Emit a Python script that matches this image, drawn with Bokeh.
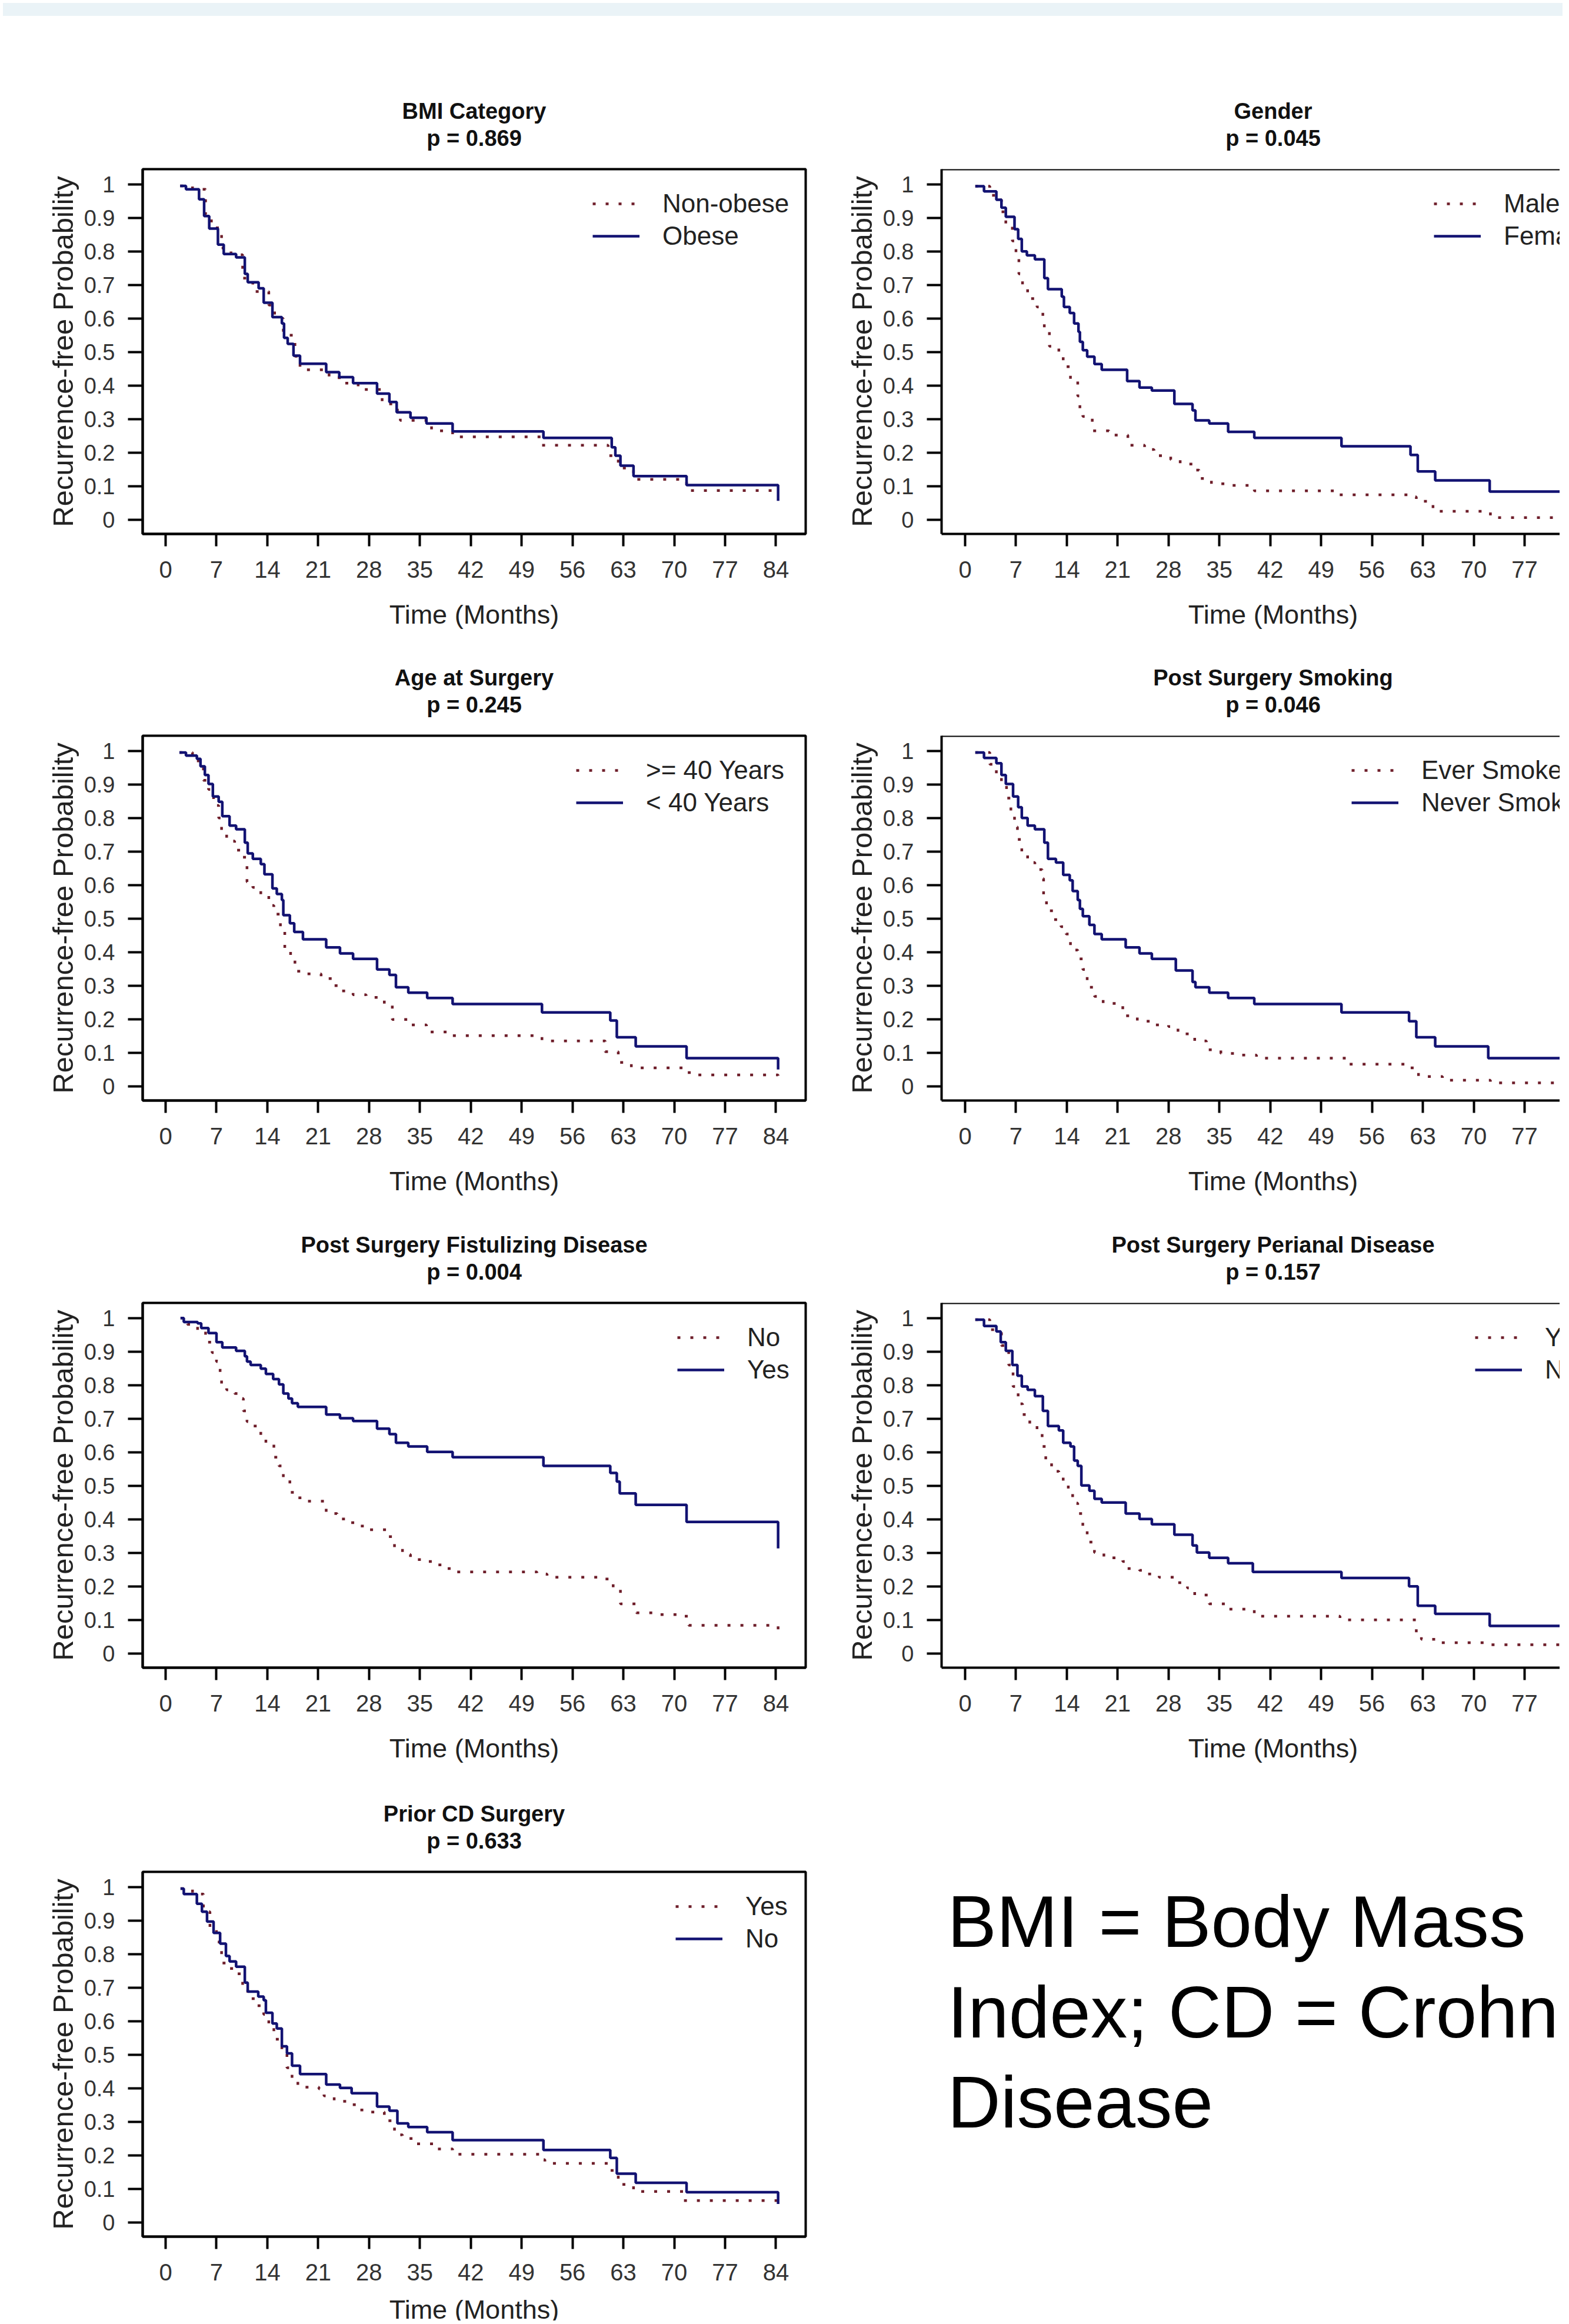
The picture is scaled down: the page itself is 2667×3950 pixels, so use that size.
from bokeh.plotting import figure
from bokeh.models import Range1d, FixedTicker, Label, Legend, LegendItem, Span, Div
from bokeh.layouts import column, row
from bokeh.embed import file_html
from bokeh.resources import INLINE

FONT = "Liberation Sans"
RED = "#6e1e2a"
BLUE = "#121272"

# ---------------- data ----------------
x_ticks = [0, 7, 14, 21, 28, 35, 42, 49, 56, 63, 70, 77, 84]
y_ticks = [0, 0.1, 0.2, 0.3, 0.4, 0.5, 0.6, 0.7, 0.8, 0.9, 1]
y_tick_labels = ["0", "0.1", "0.2", "0.3", "0.4", "0.5", "0.6", "0.7", "0.8", "0.9", "1"]

titles = ["BMI Category", "Gender", "Age at Surgery", "Post Surgery Smoking",
          "Post Surgery Fistulizing Disease", "Post Surgery Perianal Disease", "Prior CD Surgery"]
p_values = ["p = 0.869", "p = 0.045", "p = 0.245", "p = 0.046", "p = 0.004", "p = 0.157", "p = 0.633"]
red_labels = ["Non-obese", "Male", ">= 40 Years", "Ever Smoker", "No", "Yes", "Yes"]
blue_labels = ["Obese", "Female", "< 40 Years", "Never Smoker", "Yes", "No", "No"]

bmi_red_t = [2.0, 3.7, 5.5, 6.3, 7.7, 9.0, 10.6, 12.0, 14.2, 15.0, 16.2, 17.8, 18.5, 22.5, 24.3, 26.5, 29.8, 31.9, 32.3, 36.6, 39.5, 51.8, 60.9, 62.3, 64.4, 71.7, 84.3]
bmi_red_s = [0.995, 0.985, 0.91, 0.87, 0.81, 0.79, 0.72, 0.68, 0.64, 0.60, 0.55, 0.487, 0.447, 0.423, 0.407, 0.388, 0.345, 0.308, 0.296, 0.265, 0.247, 0.222, 0.191, 0.154, 0.12, 0.087, 0.087]
bmi_blue_t = [2.0, 2.8, 4.6, 5.3, 6.0, 7.2, 8.0, 9.7, 10.9, 11.3, 12.8, 13.5, 14.7, 16.0, 16.3, 16.8, 17.6, 18.5, 22.1, 23.9, 25.8, 29.1, 30.8, 31.8, 33.7, 35.9, 39.5, 52.0, 61.4, 61.9, 62.6, 64.4, 71.7, 84.3]
bmi_blue_s = [0.995, 0.985, 0.955, 0.905, 0.868, 0.82, 0.792, 0.782, 0.733, 0.708, 0.69, 0.647, 0.604, 0.585, 0.542, 0.524, 0.489, 0.465, 0.44, 0.425, 0.407, 0.376, 0.351, 0.32, 0.304, 0.287, 0.263, 0.244, 0.216, 0.191, 0.161, 0.13, 0.103, 0.056]

gen_red_t = [1.4, 3.4, 4.3, 5.0, 5.6, 6.5, 7.0, 7.4, 7.9, 8.6, 9.9, 10.7, 10.9, 11.6, 12.9, 13.5, 14.5, 15.5, 15.8, 16.2, 17.5, 19.8, 22.4, 24.7, 26.0, 28.3, 29.6, 31.3, 32.2, 33.9, 36.8, 39.8, 51.3, 61.1, 62.1, 64.4, 72.3, 84.3]
gen_red_s = [0.994, 0.967, 0.954, 0.918, 0.874, 0.831, 0.782, 0.733, 0.696, 0.659, 0.634, 0.597, 0.56, 0.517, 0.486, 0.456, 0.413, 0.369, 0.326, 0.308, 0.265, 0.252, 0.222, 0.209, 0.191, 0.179, 0.166, 0.148, 0.123, 0.107, 0.102, 0.086, 0.074, 0.068, 0.055, 0.025, 0.006, 0.006]
gen_blue_t = [1.4, 2.6, 4.3, 5.0, 5.6, 6.8, 7.3, 7.8, 8.5, 9.6, 10.9, 11.4, 13.3, 13.6, 14.4, 15.0, 15.6, 15.8, 16.2, 16.8, 17.8, 18.8, 22.3, 24.0, 25.7, 28.8, 31.3, 31.7, 33.6, 36.2, 39.8, 51.8, 61.3, 62.3, 64.7, 72.2, 84.3]
gen_blue_s = [0.994, 0.979, 0.954, 0.93, 0.903, 0.866, 0.837, 0.80, 0.788, 0.776, 0.72, 0.687, 0.665, 0.634, 0.616, 0.585, 0.56, 0.53, 0.505, 0.486, 0.464, 0.447, 0.413, 0.394, 0.385, 0.345, 0.326, 0.296, 0.287, 0.262, 0.244, 0.219, 0.193, 0.144, 0.117, 0.084, 0.084]

age_red_t = [1.9, 3.7, 5.2, 5.9, 6.6, 7.3, 7.7, 8.4, 9.5, 10.6, 11.2, 12.0, 13.1, 14.2, 14.9, 15.8, 16.4, 17.2, 17.8, 19.3, 21.4, 22.9, 24.0, 25.8, 27.6, 30.1, 31.2, 33.7, 35.9, 38.8, 51.8, 60.5, 62.3, 64.1, 71.7, 72.8, 84.3]
age_red_s = [0.995, 0.97, 0.912, 0.885, 0.837, 0.80, 0.763, 0.731, 0.704, 0.683, 0.609, 0.593, 0.571, 0.539, 0.513, 0.465, 0.412, 0.39, 0.343, 0.335, 0.321, 0.30, 0.284, 0.273, 0.265, 0.241, 0.199, 0.183, 0.162, 0.151, 0.135, 0.103, 0.071, 0.055, 0.041, 0.034, 0.025]
age_blue_t = [1.9, 2.8, 4.3, 4.8, 5.4, 5.9, 6.5, 7.3, 7.8, 8.8, 9.7, 10.9, 11.3, 12.0, 13.1, 13.6, 14.7, 15.3, 16.0, 16.2, 17.1, 17.7, 18.9, 22.1, 24.0, 25.8, 29.1, 30.8, 31.7, 33.4, 36.0, 39.5, 51.8, 61.2, 62.1, 64.7, 71.7, 84.3]
age_blue_s = [0.995, 0.986, 0.976, 0.954, 0.928, 0.901, 0.864, 0.848, 0.805, 0.777, 0.766, 0.726, 0.694, 0.678, 0.662, 0.632, 0.59, 0.573, 0.555, 0.51, 0.486, 0.46, 0.438, 0.414, 0.396, 0.38, 0.348, 0.332, 0.295, 0.279, 0.263, 0.245, 0.22, 0.196, 0.146, 0.119, 0.084, 0.05]

smk_red_t = [1.4, 3.4, 4.3, 5.0, 5.7, 6.3, 6.8, 7.2, 7.8, 8.6, 9.6, 10.6, 10.8, 11.2, 12.2, 13.2, 13.9, 14.5, 15.5, 16.2, 16.8, 17.8, 19.0, 21.1, 21.7, 23.7, 25.7, 28.0, 29.3, 31.6, 33.2, 35.2, 37.5, 40.1, 52.6, 61.1, 62.4, 65.7, 72.3, 84.3]
smk_red_s = [0.995, 0.96, 0.922, 0.896, 0.859, 0.816, 0.773, 0.736, 0.699, 0.667, 0.646, 0.619, 0.561, 0.523, 0.497, 0.476, 0.454, 0.406, 0.38, 0.348, 0.295, 0.268, 0.247, 0.241, 0.21, 0.194, 0.183, 0.178, 0.156, 0.135, 0.109, 0.098, 0.093, 0.084, 0.066, 0.055, 0.029, 0.018, 0.01, 0.01]
smk_blue_t = [1.4, 2.6, 4.3, 5.0, 5.6, 6.6, 7.3, 7.8, 8.6, 9.6, 10.9, 11.4, 12.5, 13.5, 14.4, 14.8, 15.5, 15.8, 16.2, 17.1, 17.8, 18.8, 22.1, 24.0, 25.7, 29.0, 31.3, 31.7, 33.6, 36.2, 39.8, 51.8, 61.1, 62.1, 64.7, 72.0, 84.3]
smk_blue_s = [0.995, 0.979, 0.963, 0.928, 0.901, 0.864, 0.832, 0.80, 0.777, 0.766, 0.726, 0.678, 0.667, 0.63, 0.614, 0.582, 0.555, 0.529, 0.507, 0.481, 0.454, 0.438, 0.414, 0.396, 0.38, 0.345, 0.311, 0.295, 0.279, 0.263, 0.245, 0.22, 0.194, 0.146, 0.119, 0.084, 0.084]

fis_red_t = [2.05, 3.0, 4.4, 5.5, 6.4, 7.0, 7.5, 7.7, 8.4, 9.5, 10.4, 10.7, 11.2, 12.0, 13.1, 13.8, 14.9, 15.6, 16.2, 17.1, 17.8, 18.9, 21.8, 22.1, 23.6, 25.0, 26.5, 27.9, 30.5, 31.5, 32.6, 33.7, 35.5, 37.0, 38.1, 39.9, 51.1, 52.5, 60.5, 61.6, 62.6, 64.8, 67.7, 71.0, 72.0, 84.3]
fis_red_s = [1.0, 0.981, 0.96, 0.928, 0.897, 0.87, 0.839, 0.802, 0.786, 0.775, 0.76, 0.723, 0.691, 0.678, 0.649, 0.628, 0.585, 0.559, 0.517, 0.48, 0.464, 0.454, 0.438, 0.417, 0.401, 0.39, 0.38, 0.369, 0.348, 0.316, 0.295, 0.28, 0.274, 0.264, 0.253, 0.243, 0.237, 0.227, 0.222, 0.19, 0.148, 0.121, 0.116, 0.111, 0.084, 0.047]
fis_blue_t = [2.05, 2.5, 4.4, 4.9, 5.9, 7.0, 7.8, 9.7, 10.9, 11.2, 11.7, 13.1, 13.8, 14.8, 15.6, 16.2, 16.9, 17.4, 18.2, 22.1, 24.0, 25.8, 29.1, 30.8, 31.7, 33.4, 36.0, 39.5, 52.0, 61.2, 62.1, 62.5, 64.7, 71.7, 84.3]
fis_blue_s = [1.0, 0.988, 0.984, 0.97, 0.955, 0.928, 0.912, 0.902, 0.886, 0.87, 0.86, 0.849, 0.833, 0.818, 0.802, 0.775, 0.76, 0.746, 0.735, 0.712, 0.701, 0.693, 0.67, 0.654, 0.628, 0.617, 0.601, 0.585, 0.559, 0.538, 0.512, 0.477, 0.443, 0.392, 0.313]

per_red_t = [1.4, 3.4, 5.0, 6.0, 6.6, 7.3, 7.9, 8.9, 9.9, 10.6, 11.1, 11.9, 12.9, 13.5, 14.2, 14.8, 15.5, 16.2, 16.8, 17.8, 19.1, 21.7, 22.3, 24.0, 25.0, 26.7, 29.0, 30.6, 31.6, 33.6, 36.2, 39.8, 51.6, 62.1, 62.8, 65.1, 72.3, 84.3]
per_red_s = [0.995, 0.965, 0.918, 0.86, 0.796, 0.744, 0.712, 0.68, 0.665, 0.617, 0.575, 0.543, 0.527, 0.506, 0.48, 0.448, 0.417, 0.369, 0.332, 0.301, 0.285, 0.274, 0.253, 0.248, 0.237, 0.227, 0.211, 0.195, 0.174, 0.148, 0.132, 0.111, 0.1, 0.058, 0.042, 0.032, 0.026, 0.026]
per_blue_t = [1.4, 2.6, 4.3, 4.9, 5.6, 6.5, 7.2, 7.8, 8.6, 9.6, 10.7, 11.4, 12.9, 13.5, 14.5, 15.0, 15.5, 16.0, 17.1, 17.8, 18.8, 22.1, 24.0, 25.7, 28.8, 31.3, 31.9, 33.6, 36.2, 39.6, 51.8, 61.1, 62.3, 64.7, 72.2, 84.3]
per_blue_s = [0.995, 0.976, 0.96, 0.928, 0.902, 0.86, 0.828, 0.796, 0.786, 0.767, 0.723, 0.678, 0.665, 0.628, 0.617, 0.575, 0.559, 0.501, 0.485, 0.461, 0.45, 0.417, 0.401, 0.385, 0.354, 0.322, 0.301, 0.285, 0.269, 0.243, 0.225, 0.2, 0.142, 0.118, 0.082, 0.082]

cd_red_t = [2.05, 3.7, 5.2, 6.1, 7.0, 7.7, 8.8, 9.9, 10.6, 11.3, 12.4, 13.5, 14.2, 14.9, 16.0, 16.7, 17.4, 18.2, 21.1, 21.8, 23.2, 25.0, 26.5, 27.9, 30.1, 31.5, 32.6, 34.4, 37.3, 39.5, 51.4, 52.2, 61.2, 62.3, 64.4, 71.3, 84.3]
cd_red_s = [0.995, 0.979, 0.926, 0.879, 0.836, 0.773, 0.757, 0.741, 0.694, 0.667, 0.646, 0.62, 0.588, 0.546, 0.504, 0.461, 0.43, 0.403, 0.398, 0.377, 0.361, 0.351, 0.335, 0.329, 0.303, 0.261, 0.25, 0.234, 0.219, 0.203, 0.187, 0.176, 0.155, 0.113, 0.092, 0.065, 0.055]
cd_blue_t = [2.05, 2.5, 4.3, 5.0, 5.7, 6.6, 7.5, 8.3, 8.8, 9.7, 10.9, 11.3, 12.75, 13.5, 13.8, 14.7, 15.3, 16.0, 16.7, 17.4, 18.5, 22.1, 24.0, 25.6, 29.1, 30.8, 31.9, 33.4, 36.0, 39.5, 52.0, 61.2, 62.1, 64.7, 71.7, 84.3]
cd_blue_s = [0.995, 0.979, 0.95, 0.926, 0.897, 0.863, 0.831, 0.794, 0.778, 0.762, 0.715, 0.688, 0.673, 0.662, 0.625, 0.593, 0.578, 0.525, 0.504, 0.467, 0.442, 0.411, 0.401, 0.385, 0.345, 0.333, 0.295, 0.284, 0.269, 0.245, 0.216, 0.192, 0.145, 0.118, 0.09, 0.055]

note_lines = ["BMI = Body Mass", "Index; CD = Crohn's", "Disease"]

series = [
    (bmi_red_t, bmi_red_s, bmi_blue_t, bmi_blue_s),
    (gen_red_t, gen_red_s, gen_blue_t, gen_blue_s),
    (age_red_t, age_red_s, age_blue_t, age_blue_s),
    (smk_red_t, smk_red_s, smk_blue_t, smk_blue_s),
    (fis_red_t, fis_red_s, fis_blue_t, fis_blue_s),
    (per_red_t, per_red_s, per_blue_t, per_blue_s),
    (cd_red_t, cd_red_s, cd_blue_t, cd_blue_s),
]

# ---------------- layout geometry ----------------
PXM = 12.35            # pixels per month
FRAME_H = 620
Y0, Y1 = -0.0425, 1.045
PLOT_TOP, PLOT_BOT = 10, 100
PLOT_H = PLOT_TOP + FRAME_H + PLOT_BOT
# (cell height, space above frame, space below frame) for the four rows
row_geom = [(1070, 255, 195), (965, 148, 197), (965, 147, 198), (912, 149, 143)]
legend_x = [765, 837, 737, 697, 909, 907, 906]
SIDES = {"left": (1412, 242, 43, -3.16), "right": (1239, 188, 0, -3.24)}
TITLE_CX = 563.5


def text_fig(side, height):
    width, mbl, mbr, _ = SIDES[side]
    fw = width - mbl - mbr
    f = figure(width=width, height=height, x_range=Range1d(0, fw), y_range=Range1d(0, height),
               min_border_left=mbl, min_border_right=mbr, min_border_top=0, min_border_bottom=0,
               toolbar_location=None, tools="", output_backend="svg",
               x_axis_location=None, y_axis_location=None, outline_line_color=None,
               background_fill_color="white", border_fill_color="white")
    f.grid.visible = False
    return f


def make_plot(i):
    side = "left" if i % 2 == 0 else "right"
    width, mbl, mbr, x0 = SIDES[side]
    x1 = x0 + (width - mbl - mbr) / PXM
    p = figure(width=width, height=PLOT_H, x_range=Range1d(x0, x1), y_range=Range1d(Y0, Y1),
               min_border_left=mbl, min_border_right=mbr, min_border_top=PLOT_TOP,
               min_border_bottom=PLOT_BOT,
               toolbar_location=None, tools="", output_backend="svg",
               background_fill_color="white", border_fill_color="white")
    p.xgrid.visible = False
    p.ygrid.visible = False
    if side == "left":
        p.outline_line_color = "black"
        p.outline_line_width = 4
    else:
        p.outline_line_color = None
        p.add_layout(Span(location=Y1, dimension="width", line_color="black", line_width=4))

    p.xaxis.ticker = FixedTicker(ticks=x_ticks)
    p.yaxis.ticker = FixedTicker(ticks=y_ticks)
    p.yaxis.major_label_overrides = dict(zip(y_ticks, y_tick_labels))
    for ax in (p.xaxis[0], p.yaxis[0]):
        ax.axis_line_color = "black"
        ax.axis_line_width = 4
        ax.major_tick_line_color = "black"
        ax.major_tick_line_width = 4
        ax.minor_tick_line_color = None
        ax.major_tick_in = 0
        ax.major_label_text_font = FONT
        ax.major_label_text_color = "#333333"
    p.xaxis.major_tick_out = 21
    p.xaxis.major_label_standoff = 25
    p.xaxis.major_label_text_font_size = "40px"
    p.yaxis.major_tick_out = 25
    p.yaxis.major_label_standoff = 22
    p.yaxis.major_label_text_font_size = "38px"
    p.yaxis.axis_label = "Recurrence-free Probability"
    p.yaxis.axis_label_text_font = FONT
    p.yaxis.axis_label_text_font_size = "49px"
    p.yaxis.axis_label_text_font_style = "normal"
    p.yaxis.axis_label_text_color = "#222222"
    p.yaxis.axis_label_standoff = 6

    rt, rs, bt, bs = series[i]
    r_red = p.step(rt, rs, mode="after", line_color=RED, line_width=4.5, line_dash="5 17")
    r_blue = p.step(bt, bs, mode="after", line_color=BLUE, line_width=4.5)

    legend = Legend(items=[LegendItem(label=red_labels[i], renderers=[r_red]),
                           LegendItem(label=blue_labels[i], renderers=[r_blue])],
                    location=(legend_x[i], FRAME_H - 31.5 - 110),
                    padding=0, spacing=0, margin=0, label_height=55, glyph_height=20, glyph_width=80,
                    label_standoff=39, border_line_color=None, background_fill_alpha=0,
                    label_text_font=FONT, label_text_font_size="44px", label_text_color="#222222")
    p.add_layout(legend)
    return p


def make_cell(i):
    side = "left" if i % 2 == 0 else "right"
    _, above, below = row_geom[i // 2]
    top_h = above - PLOT_TOP
    bot_h = below - PLOT_BOT
    top = text_fig(side, top_h)
    top.add_layout(Label(x=TITLE_CX, y=89, text=titles[i], text_align="center",
                         text_baseline="middle", text_font=FONT, text_font_size="38px",
                         text_font_style="bold", text_color="#111111"))
    top.add_layout(Label(x=TITLE_CX, y=43, text=p_values[i], text_align="center",
                         text_baseline="middle", text_font=FONT, text_font_size="38px",
                         text_font_style="bold", text_color="#111111"))
    bot = text_fig(side, bot_h)
    bot.add_layout(Label(x=TITLE_CX, y=max(bot_h - 37, 19), text="Time (Months)", text_align="center",
                         text_baseline="middle", text_font=FONT, text_font_size="45px",
                         text_color="#222222"))
    return column(top, make_plot(i), bot)


def make_note_cell():
    _, above, below = row_geom[3]
    top = text_fig("right", above - PLOT_TOP)
    mid = text_fig("right", PLOT_H)
    for k, line in enumerate(note_lines):
        mid.add_layout(Label(x=10, y=PLOT_H - 94 - 153.7 * k, text=line,
                             text_align="left", text_baseline="alphabetic", text_font=FONT,
                             text_font_size="125px", text_color="black"))
    bot = text_fig("right", below - PLOT_BOT)
    return column(top, mid, bot)


cells = [make_cell(i) for i in range(7)]
strip = Div(width=1412 + 1239, height=22, styles={"background-color": "#eaf3f7"})

layout = column(strip,
                row(cells[0], cells[1]),
                row(cells[2], cells[3]),
                row(cells[4], cells[5]),
                row(cells[6], make_note_cell()))

open("out.html", "w").write(file_html(layout, INLINE, "Recurrence-free Probability"))
